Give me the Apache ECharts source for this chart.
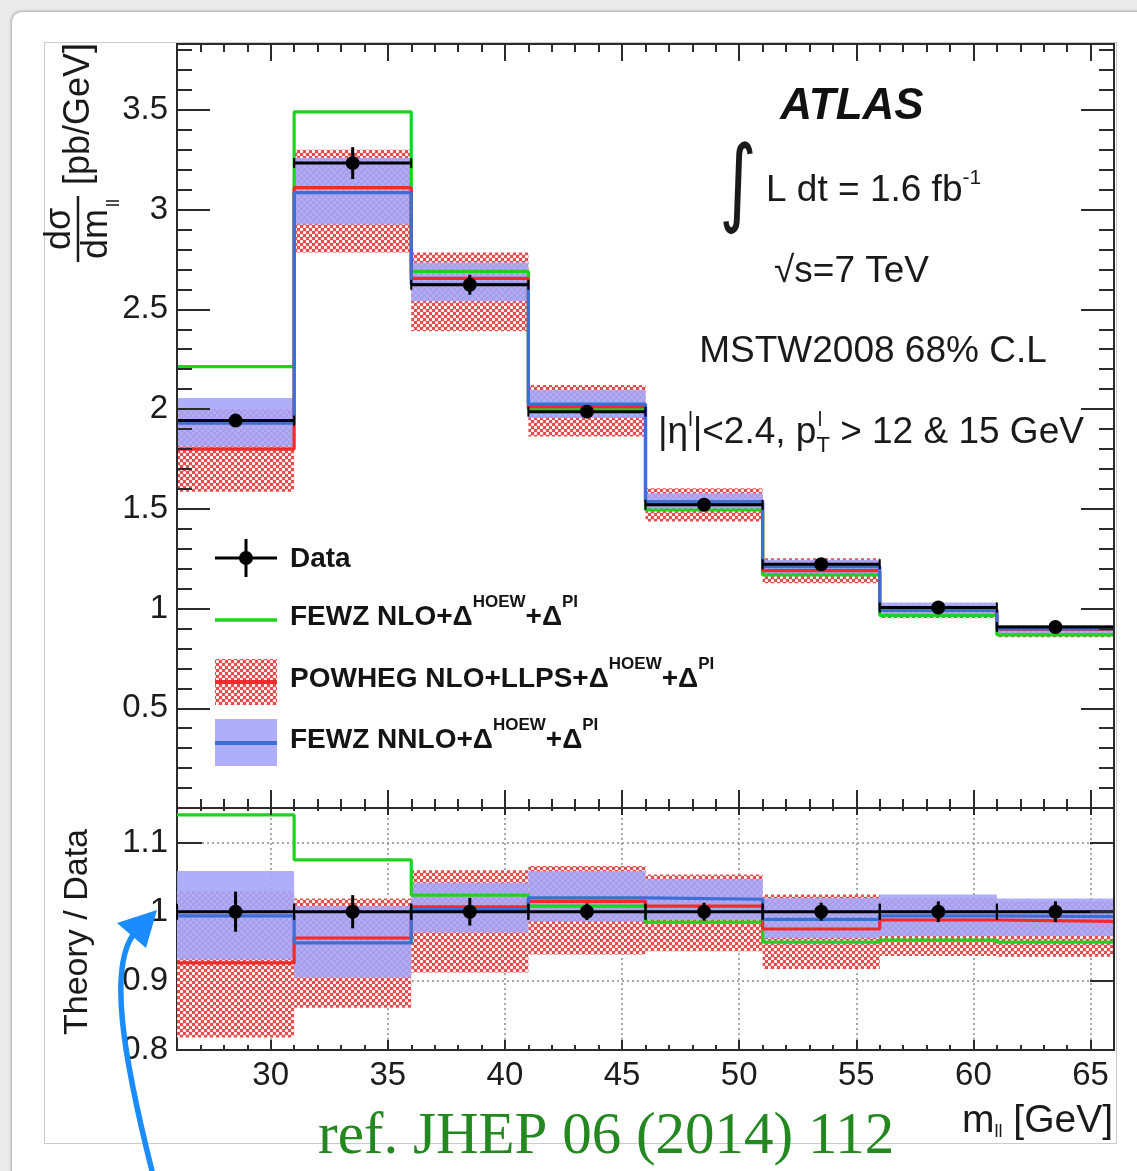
<!DOCTYPE html>
<html><head><meta charset="utf-8">
<script src="https://cdn.jsdelivr.net/npm/echarts@6/dist/echarts.min.js"></script>
<style>
html,body{margin:0;padding:0;width:1137px;height:1171px;overflow:hidden;background:#ebebeb;}
#card{position:absolute;left:12px;top:12px;width:1150px;height:1200px;background:#fff;border-radius:10px;box-shadow:0 0 3px 1px rgba(0,0,0,0.28);}
#inner{position:absolute;left:44px;top:42px;width:1071px;height:1100px;border:1px solid #cbcbcb;}
#chart{position:absolute;left:0;top:0;width:1137px;height:1171px;}
</style></head>
<body><div id="card"></div><div id="inner"></div><div id="chart"></div>
<script>
// ---------------- data ----------------
const binEdges = [26, 31, 36, 41, 46, 51, 56, 61, 66];

// main panel: d sigma / d m_ll [pb/GeV]
const dataVal  = [1.942, 3.233, 2.623, 1.987, 1.520, 1.222, 1.005, 0.907];
const dataErr  = [0.030, 0.080, 0.050, 0.025, 0.022, 0.018, 0.016, 0.014];
const nloVal   = [2.213, 3.490, 2.690, 2.000, 1.494, 1.168, 0.966, 0.868];
const powVal   = [1.799, 3.110, 2.655, 2.012, 1.530, 1.190, 0.990, 0.895];
const powLo    = [1.586, 2.785, 2.390, 1.862, 1.436, 1.127, 0.951, 0.856];
const powHi    = [2.000, 3.300, 2.785, 2.121, 1.603, 1.252, 1.020, 0.915];
const nnloVal  = [1.929, 3.085, 2.625, 2.025, 1.536, 1.210, 0.993, 0.898];
const nnloLo   = [1.812, 2.925, 2.540, 1.955, 1.500, 1.175, 0.970, 0.875];
const nnloHi   = [2.055, 3.260, 2.735, 2.096, 1.578, 1.244, 1.030, 0.918];

// ratio panel: Theory / Data
const ratioData    = [1, 1, 1, 1, 1, 1, 1, 1];
const ratioDataErr = [0.029, 0.024, 0.020, 0.012, 0.013, 0.013, 0.015, 0.015];
const ratioNlo     = [1.140, 1.075, 1.024, 1.008, 0.985, 0.956, 0.959, 0.956];
const ratioPow     = [0.926, 0.962, 1.007, 1.015, 1.008, 0.975, 0.988, 0.986];
const ratioPowLo   = [0.818, 0.861, 0.912, 0.938, 0.943, 0.917, 0.936, 0.935];
const ratioPowHi   = [1.030, 1.019, 1.060, 1.066, 1.054, 1.025, 1.020, 1.015];
const ratioNnlo    = [0.994, 0.955, 1.003, 1.020, 1.018, 0.989, 0.994, 0.993];
const ratioNnloLo  = [0.931, 0.905, 0.970, 0.986, 0.988, 0.962, 0.965, 0.965];
const ratioNnloHi  = [1.059, 1.008, 1.042, 1.059, 1.047, 1.020, 1.025, 1.019];

// tick values
const xMajorTicks = [30, 35, 40, 45, 50, 55, 60, 65];
const xMinorTicks = [27, 28, 29, 31, 32, 33, 34, 36, 37, 38, 39, 41, 42, 43, 44, 46, 47, 48, 49,
                     51, 52, 53, 54, 56, 57, 58, 59, 61, 62, 63, 64];
const yMainLabels = [0.5, 1, 1.5, 2, 2.5, 3, 3.5];
const yMainMajor  = [0, 0.5, 1, 1.5, 2, 2.5, 3, 3.5];
const yMainMinor  = [0.1, 0.2, 0.3, 0.4, 0.6, 0.7, 0.8, 0.9, 1.1, 1.2, 1.3, 1.4, 1.6, 1.7, 1.8, 1.9,
                     2.1, 2.2, 2.3, 2.4, 2.6, 2.7, 2.8, 2.9, 3.1, 3.2, 3.3, 3.4, 3.6, 3.7, 3.8];
const yRatioLabels = [0.8, 0.9, 1, 1.1];
const yRatioTicks  = [0.9, 1, 1.1];

// ---------------- styles ----------------
const F = 'Liberation Sans, Arial, Helvetica, sans-serif';
const AX = '#2b2b2b';
const GREEN = '#1ed21e', RED = '#f22a2a', BLUE = '#3b6fd4';

function makeHatch() {
  const c = document.createElement('canvas');
  c.width = 6; c.height = 6;
  const g = c.getContext('2d');
  g.fillStyle = '#e54c4c';
  g.fillRect(0, 0, 6, 6);
  g.fillStyle = '#ffffff';
  g.beginPath(); g.arc(1.5, 1.5, 1.6, 0, Math.PI * 2); g.fill();
  g.beginPath(); g.arc(4.5, 4.5, 1.6, 0, Math.PI * 2); g.fill();
  return c;
}
const hatchFill = { image: makeHatch(), repeat: 'repeat' };
const blueFill = 'rgba(165,165,248,0.9)';

// ---------------- axes ----------------
function xAx(grid, pos, ticks, len, extra) {
  return Object.assign({
    type: 'value', gridIndex: grid, position: pos, min: 26, max: 66, z: 10,
    axisLine: { show: true, onZero: false, lineStyle: { color: AX, width: 2 } },
    axisTick: { show: true, inside: true, length: len, customValues: ticks, lineStyle: { color: AX, width: 2 } },
    axisLabel: { show: false },
    splitLine: { show: false }
  }, extra || {});
}
function yAx(grid, pos, min, max, ticks, len, extra) {
  return Object.assign({
    type: 'value', gridIndex: grid, position: pos, min: min, max: max, z: 10,
    axisLine: { show: true, onZero: false, lineStyle: { color: AX, width: 2 } },
    axisTick: { show: true, inside: true, length: len, customValues: ticks, lineStyle: { color: AX, width: 2 } },
    axisLabel: { show: false },
    splitLine: { show: false }
  }, extra || {});
}
const labelStyle = { fontFamily: F, fontSize: 33, color: '#1c1c1c' };
const dotted = { show: true, lineStyle: { color: '#8d8d8d', width: 1.5, type: [2, 3] } };

const xAxes = [
  xAx(0, 'bottom', xMajorTicks, 18),                 // 0 main bottom major
  xAx(0, 'bottom', xMinorTicks, 9),                  // 1 main bottom minor
  xAx(0, 'top', xMajorTicks, 17),                    // 2 main top major
  xAx(0, 'top', xMinorTicks, 8),                     // 3 main top minor
  xAx(1, 'bottom', xMajorTicks, 10, {                // 4 ratio bottom major + labels + grid
    z: 1,
    axisLabel: Object.assign({ show: true, customValues: xMajorTicks, margin: 9 }, labelStyle),
    splitLine: dotted
  }),
  xAx(1, 'bottom', xMinorTicks, 5, { z: 1 }),        // 5 ratio bottom minor
  xAx(1, 'top', xMajorTicks, 7),                     // 6 ratio top major
  xAx(1, 'top', xMinorTicks, 3)                      // 7 ratio top minor
];
const yAxes = [
  yAx(0, 'left', 0, 3.83, yMainMajor, 33, {          // 0 main left major + labels
    axisLabel: Object.assign({ show: true, customValues: yMainLabels, margin: 9 }, labelStyle)
  }),
  yAx(0, 'left', 0, 3.83, yMainMinor, 15),           // 1 main left minor
  yAx(0, 'right', 0, 3.83, yMainMajor, 33),          // 2 main right major
  yAx(0, 'right', 0, 3.83, yMainMinor, 15),          // 3 main right minor
  yAx(1, 'left', 0.8, 1.15, yRatioTicks, 25, {       // 4 ratio left + labels + grid
    z: 1,
    axisLabel: Object.assign({ show: true, customValues: yRatioLabels, margin: 9 }, labelStyle),
    splitLine: dotted
  }),
  yAx(1, 'right', 0.8, 1.15, yRatioTicks, 24)        // 5 ratio right
];

// ---------------- series builders ----------------
function bandSeries(lo, hi, fill, xi, yi, z) {
  return {
    type: 'custom', xAxisIndex: xi, yAxisIndex: yi, z: z, silent: true, clip: true,
    data: lo.map((v, i) => [binEdges[i], binEdges[i + 1], v, hi[i]]),
    renderItem: function (params, api) {
      const p0 = api.coord([api.value(0), api.value(3)]);
      const p1 = api.coord([api.value(1), api.value(2)]);
      return { type: 'rect', shape: { x: p0[0], y: p0[1], width: p1[0] - p0[0], height: p1[1] - p0[1] },
               style: { fill: fill } };
    }
  };
}
function stepSeries(vals, color, xi, yi, z) {
  const d = vals.map((v, i) => [binEdges[i], v]);
  d.push([binEdges[binEdges.length - 1], vals[vals.length - 1]]);
  return {
    type: 'line', xAxisIndex: xi, yAxisIndex: yi, z: z, step: 'end', data: d,
    symbol: 'none', silent: true, clip: true, lineStyle: { color: color, width: 3.2 }
  };
}
function dataSeries(vals, errs, xi, yi, z, cap) {
  return {
    type: 'custom', xAxisIndex: xi, yAxisIndex: yi, z: z, silent: true,
    data: vals.map((v, i) => [binEdges[i], binEdges[i + 1], v, errs[i]]),
    renderItem: function (params, api) {
      const x0 = api.value(0), x1 = api.value(1), y = api.value(2), e = api.value(3);
      const xc = (x0 + x1) / 2;
      const pL = api.coord([x0, y]), pR = api.coord([x1, y]);
      const pT = api.coord([xc, y + e]), pB = api.coord([xc, y - e]), pC = api.coord([xc, y]);
      const st = { stroke: '#000', lineWidth: 3 };
      const st2 = { stroke: '#000', lineWidth: 2 };
      return { type: 'group', children: [
        { type: 'line', shape: { x1: pL[0], y1: pL[1], x2: pR[0], y2: pR[1] }, style: st },
        { type: 'line', shape: { x1: pL[0], y1: pL[1] - cap, x2: pL[0], y2: pL[1] + cap }, style: st2 },
        { type: 'line', shape: { x1: pR[0], y1: pR[1] - cap, x2: pR[0], y2: pR[1] + cap }, style: st2 },
        { type: 'line', shape: { x1: pT[0], y1: pT[1], x2: pB[0], y2: pB[1] }, style: st },
        { type: 'circle', shape: { cx: pC[0], cy: pC[1], r: 7 }, style: { fill: '#000' } }
      ]};
    }
  };
}

const series = [
  bandSeries(powLo, powHi, hatchFill, 0, 0, 2),
  bandSeries(nnloLo, nnloHi, blueFill, 0, 0, 3),
  stepSeries(nloVal, GREEN, 0, 0, 4),
  stepSeries(powVal, RED, 0, 0, 5),
  stepSeries(nnloVal, BLUE, 0, 0, 6),
  dataSeries(dataVal, dataErr, 0, 0, 7, 5),

  bandSeries(ratioPowLo, ratioPowHi, hatchFill, 4, 4, 2),
  bandSeries(ratioNnloLo, ratioNnloHi, blueFill, 4, 4, 3),
  stepSeries(ratioNlo, GREEN, 4, 4, 4),
  stepSeries(ratioPow, RED, 4, 4, 5),
  stepSeries(ratioNnlo, BLUE, 4, 4, 6),
  dataSeries(ratioData, ratioDataErr, 4, 4, 7, 8)
];

// ---------------- text & legend graphics ----------------
const txt = (x, y, text, o) => ({ type: 'text', x: x, y: y, z: 50, silent: true,
  style: Object.assign({ text: text, fontFamily: F, fontSize: 37, fill: '#1a1a1a', align: 'left', verticalAlign: 'middle' }, o || {}) });
const rot = (x, y, text, o) => Object.assign(txt(x, y, text, Object.assign({ align: 'center' }, o || {})), { rotation: Math.PI / 2 });

const legRich = {
  a: { fontFamily: F, fontWeight: 'bold', fontSize: 28, fill: '#141414' },
  s: { fontFamily: F, fontWeight: 'bold', fontSize: 17, fill: '#141414', padding: [0, 0, 30, 0] }
};

const integral = txt(738, 189, '∫', { fontFamily: 'DejaVu Sans', fontSize: 96, align: 'center' });
integral.scaleX = 0.75;

const graphic = [
  // annotation block
  txt(852, 107, 'ATLAS', { fontSize: 44, fontWeight: 'bold', fontStyle: 'italic', align: 'center', fill: '#111' }),
  integral,
  txt(766, 191, '{a|L dt = 1.6 fb}{s|-1}', { rich: {
    a: { fontFamily: F, fontSize: 37, fill: '#1a1a1a' },
    s: { fontFamily: F, fontSize: 21, fill: '#1a1a1a', padding: [0, 0, 26, 0] } } }),
  txt(774, 272, '√s=7 TeV'),
  txt(873, 352, 'MSTW2008 68% C.L', { align: 'center' }),
  txt(658, 433, '{a||η}{s|l}{a||<2.4, p}{b|T}{a| > 12 & 15 GeV}', { rich: {
    a: { fontFamily: F, fontSize: 37, fill: '#1a1a1a' },
    s: { fontFamily: F, fontSize: 20, fill: '#1a1a1a', padding: [0, 0, 26, 0] },
    b: { fontFamily: F, fontSize: 22, fill: '#1a1a1a', padding: [26, 0, 0, 0] } } }),
  txt(820, 420, 'l', { fontSize: 20, align: 'center' }),

  // legend
  { type: 'line', z: 50, shape: { x1: 215, y1: 558, x2: 277, y2: 558 }, style: { stroke: '#000', lineWidth: 3 } },
  { type: 'line', z: 50, shape: { x1: 246, y1: 539, x2: 246, y2: 577 }, style: { stroke: '#000', lineWidth: 3 } },
  { type: 'circle', z: 51, shape: { cx: 246, cy: 558, r: 7 }, style: { fill: '#000' } },
  txt(290, 559, '{a|Data}', { rich: legRich }),

  { type: 'line', z: 50, shape: { x1: 215, y1: 620, x2: 277, y2: 620 }, style: { stroke: GREEN, lineWidth: 3.5 } },
  txt(290, 617, '{a|FEWZ NLO+Δ}{s|HOEW}{a|+Δ}{s|PI}', { rich: legRich }),

  { type: 'rect', z: 50, shape: { x: 215, y: 659, width: 62, height: 46 }, style: { fill: hatchFill } },
  { type: 'line', z: 51, shape: { x1: 215, y1: 682, x2: 277, y2: 682 }, style: { stroke: RED, lineWidth: 4 } },
  txt(290, 679, '{a|POWHEG NLO+LLPS+Δ}{s|HOEW}{a|+Δ}{s|PI}', { rich: legRich }),

  { type: 'rect', z: 50, shape: { x: 215, y: 719, width: 62, height: 47 }, style: { fill: blueFill } },
  { type: 'line', z: 51, shape: { x1: 215, y1: 743, x2: 277, y2: 743 }, style: { stroke: BLUE, lineWidth: 4 } },
  txt(290, 740, '{a|FEWZ NNLO+Δ}{s|HOEW}{a|+Δ}{s|PI}', { rich: legRich }),

  // axis titles
  rot(79, 114, '[pb/GeV]', { fontSize: 36 }),
  rot(60, 229, 'dσ', { fontSize: 36 }),
  { type: 'line', z: 50, shape: { x1: 78, y1: 196, x2: 78, y2: 262 }, style: { stroke: '#1a1a1a', lineWidth: 2.5 } },
  rot(97, 234, 'dm', { fontSize: 36 }),
  rot(114, 203, 'll', { fontSize: 18 }),
  rot(78, 932, 'Theory / Data', { fontSize: 34 }),
  txt(1113, 1121, '{a|m}{b|ll}{a| [GeV]}', { align: 'right', rich: {
    a: { fontFamily: F, fontSize: 39, fill: '#1a1a1a' },
    b: { fontFamily: F, fontSize: 18, fill: '#1a1a1a', padding: [22, 0, 0, 0] } } }),

  // reference note and arrow
  txt(318, 1137, 'ref. JHEP 06 (2014) 112', { fontFamily: 'Liberation Serif, Times New Roman, serif', fontSize: 59, fill: '#22881f' }),
  { type: 'bezierCurve', z: 60, shape: { x1: 153, y1: 1175, cpx1: 124, cpy1: 1060, cpx2: 106, cpy2: 962, x2: 137, y2: 930 },
    style: { stroke: '#1a8cff', lineWidth: 5.5, fill: 'none' } },
  { type: 'polygon', z: 61, shape: { points: [[157, 910], [117, 923], [146, 948]] }, style: { fill: '#1a8cff' } }
];

const chart = echarts.init(document.getElementById('chart'), null, { renderer: 'canvas' });
chart.setOption({
  animation: false,
  grid: [
    { left: 177, top: 44, width: 937, height: 764, outerBoundsMode: 'none' },
    { left: 177, top: 808, width: 937, height: 242, outerBoundsMode: 'none' }
  ],
  xAxis: xAxes,
  yAxis: yAxes,
  series: series,
  graphic: graphic
});
</script></body></html>
